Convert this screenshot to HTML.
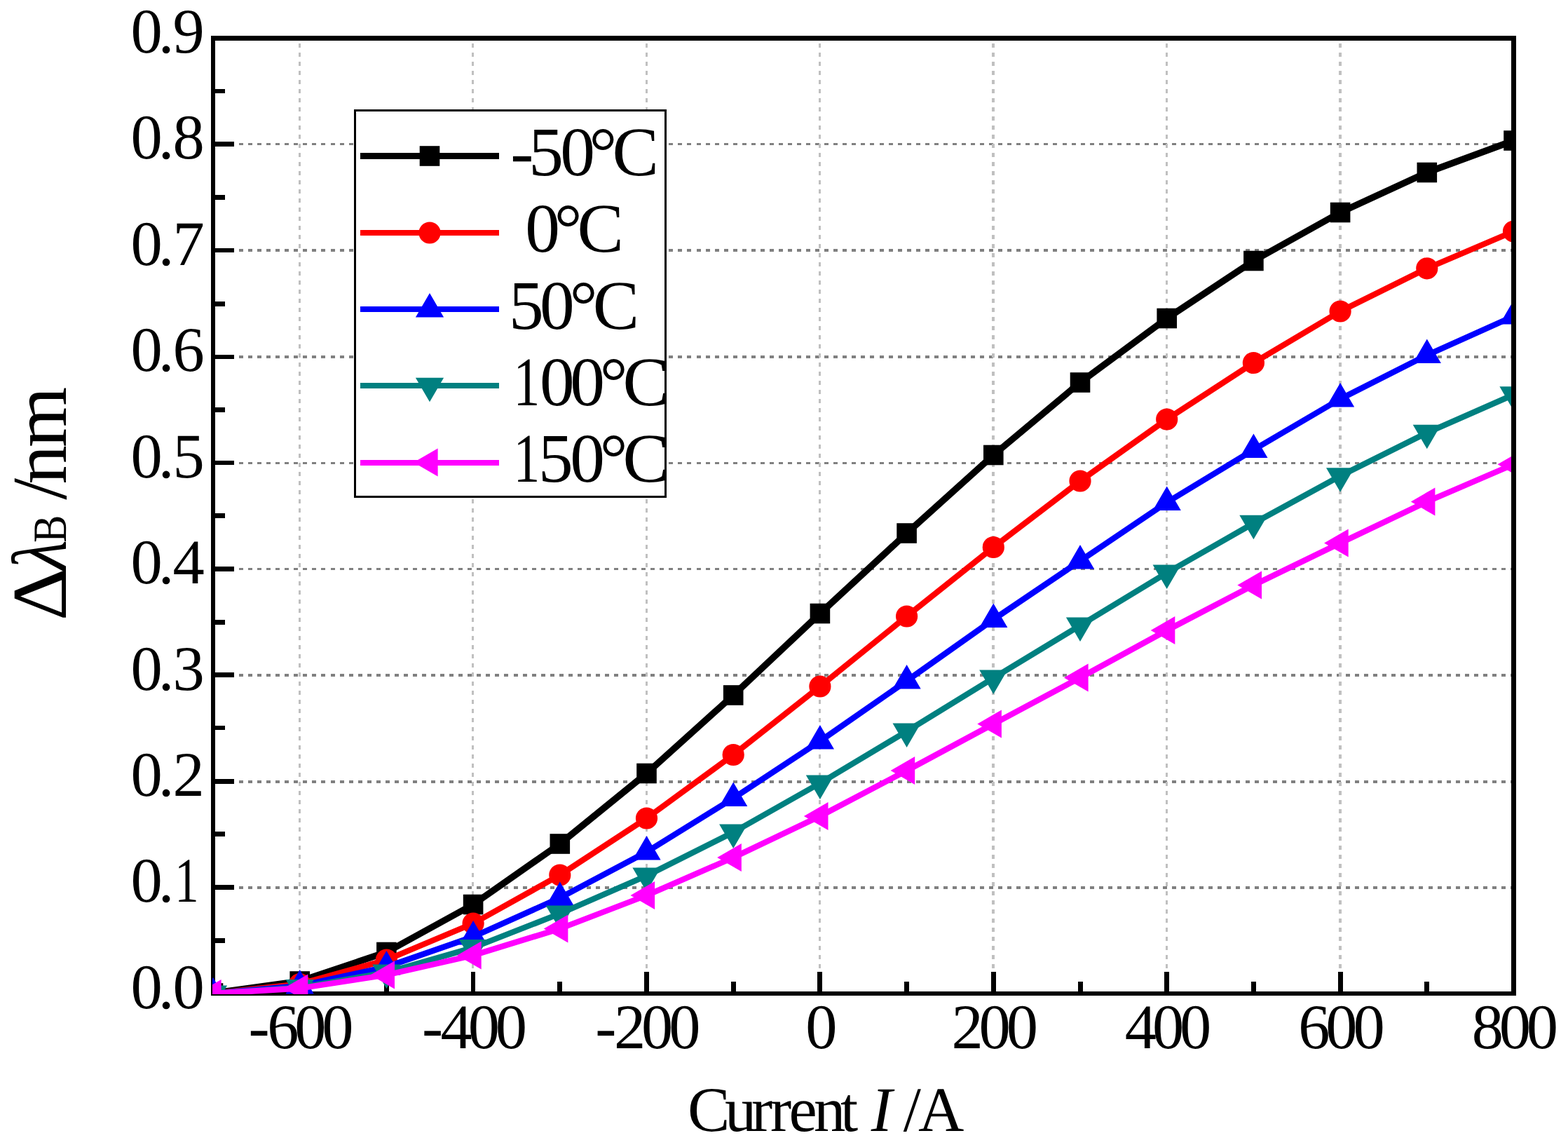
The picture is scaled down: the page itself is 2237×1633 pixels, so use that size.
<!DOCTYPE html>
<html lang="en">
<head>
<meta charset="utf-8">
<title>Wavelength shift versus current</title>
<style>
html,body{margin:0;padding:0;background:#fff;}
body{width:2237px;height:1633px;overflow:hidden;}
svg{display:block;}
text{font-family:"Liberation Serif","Times New Roman",serif;fill:#000;white-space:pre;text-rendering:geometricPrecision;}
.tk text{font-size:90.5px;}
.xt{font-size:90.5px;}
.yt text{font-size:111px;}
.it{font-style:italic;}
.yt .sub{font-size:68px;}
.lg{font-size:99.4px;}
</style>
</head>
<body>
<svg width="2237" height="1633" viewBox="0 0 2237 1633">
<defs><clipPath id="plotclip"><rect x="303" y="52" width="1860" height="1366"/></clipPath><clipPath id="legclip"><rect x="508" y="159" width="440" height="548"/></clipPath></defs>
<rect x="0" y="0" width="2237" height="1633" fill="#ffffff"/>
<g fill="none" shape-rendering="crispEdges"><line x1="341" y1="1266" x2="2156" y2="1266" stroke="#808080" stroke-width="4" stroke-dasharray="6 7.05"/><line x1="341" y1="1115" x2="2156" y2="1115" stroke="#808080" stroke-width="4" stroke-dasharray="6 7.05"/><line x1="341" y1="963" x2="2156" y2="963" stroke="#808080" stroke-width="4" stroke-dasharray="6 7.05"/><line x1="341" y1="811.5" x2="2156" y2="811.5" stroke="#808080" stroke-width="3" stroke-dasharray="6 7.05"/><line x1="341" y1="660.5" x2="2156" y2="660.5" stroke="#808080" stroke-width="3" stroke-dasharray="6 7.05"/><line x1="341" y1="509" x2="2156" y2="509" stroke="#808080" stroke-width="4" stroke-dasharray="6 7.05"/><line x1="341" y1="357" x2="2156" y2="357" stroke="#808080" stroke-width="4" stroke-dasharray="6 7.05"/><line x1="341" y1="205.5" x2="2156" y2="205.5" stroke="#808080" stroke-width="3" stroke-dasharray="6 7.05"/><line x1="427.5" y1="62" x2="427.5" y2="1386" stroke="#c0c0c0" stroke-width="3" stroke-dasharray="6 7"/><line x1="674.5" y1="62" x2="674.5" y2="1386" stroke="#c0c0c0" stroke-width="3" stroke-dasharray="6 7"/><line x1="922.5" y1="62" x2="922.5" y2="1386" stroke="#c0c0c0" stroke-width="3" stroke-dasharray="6 7"/><line x1="1169.5" y1="62" x2="1169.5" y2="1386" stroke="#c0c0c0" stroke-width="3" stroke-dasharray="6 7"/><line x1="1417" y1="62" x2="1417" y2="1386" stroke="#c0c0c0" stroke-width="4" stroke-dasharray="6 7"/><line x1="1664.5" y1="62" x2="1664.5" y2="1386" stroke="#c0c0c0" stroke-width="3" stroke-dasharray="6 7"/><line x1="1912" y1="62" x2="1912" y2="1386" stroke="#c0c0c0" stroke-width="4" stroke-dasharray="6 7"/></g>
<g fill="#000" shape-rendering="crispEdges">
<rect x="301" y="51" width="6" height="1369"/>
<rect x="2156" y="51" width="7" height="1369"/>
<rect x="301" y="51" width="1862" height="7"/>
<rect x="301" y="1414" width="1862" height="6"/>
<rect x="304" y="1338" width="17" height="7"/>
<rect x="304" y="1262" width="30" height="7"/>
<rect x="304" y="1186" width="17" height="7"/>
<rect x="304" y="1111" width="30" height="7"/>
<rect x="304" y="1035" width="17" height="6"/>
<rect x="304" y="959" width="30" height="7"/>
<rect x="304" y="884" width="17" height="7"/>
<rect x="304" y="808" width="30" height="7"/>
<rect x="304" y="732" width="17" height="7"/>
<rect x="304" y="657" width="30" height="6"/>
<rect x="304" y="581" width="17" height="7"/>
<rect x="304" y="506" width="30" height="6"/>
<rect x="304" y="430" width="17" height="7"/>
<rect x="304" y="354" width="30" height="6"/>
<rect x="304" y="278" width="17" height="7"/>
<rect x="304" y="202" width="30" height="7"/>
<rect x="304" y="127" width="17" height="6"/>
<rect x="424" y="1386" width="7" height="30"/>
<rect x="548" y="1400" width="7" height="16"/>
<rect x="672" y="1386" width="6" height="30"/>
<rect x="795" y="1400" width="7" height="16"/>
<rect x="919" y="1386" width="7" height="30"/>
<rect x="1043" y="1400" width="7" height="16"/>
<rect x="1166" y="1386" width="7" height="30"/>
<rect x="1290" y="1400" width="7" height="16"/>
<rect x="1414" y="1386" width="7" height="30"/>
<rect x="1538" y="1400" width="7" height="16"/>
<rect x="1661" y="1386" width="7" height="30"/>
<rect x="1785" y="1400" width="7" height="16"/>
<rect x="1909" y="1386" width="7" height="30"/>
<rect x="2032" y="1400" width="7" height="16"/>
</g>
<g clip-path="url(#plotclip)">
<path d="M304,1416.5L427.7,1399.5L551.4,1358L675.1,1290L798.8,1203.5L922.5,1103L1046.2,991.5L1169.9,875L1293.6,760.5L1417.3,649L1541,545.5L1664.7,454L1788.4,372L1912.1,303L2035.8,246L2159.5,200.5" fill="none" stroke="#000000" stroke-width="9.4" stroke-linejoin="round"/>
<rect x="289.7" y="1402.2" width="28.6" height="28.6" fill="#000000"/><rect x="413.4" y="1385.2" width="28.6" height="28.6" fill="#000000"/><rect x="537.1" y="1343.7" width="28.6" height="28.6" fill="#000000"/><rect x="660.8" y="1275.7" width="28.6" height="28.6" fill="#000000"/><rect x="784.5" y="1189.2" width="28.6" height="28.6" fill="#000000"/><rect x="908.2" y="1088.7" width="28.6" height="28.6" fill="#000000"/><rect x="1031.9" y="977.2" width="28.6" height="28.6" fill="#000000"/><rect x="1155.6" y="860.7" width="28.6" height="28.6" fill="#000000"/><rect x="1279.3" y="746.2" width="28.6" height="28.6" fill="#000000"/><rect x="1403" y="634.7" width="28.6" height="28.6" fill="#000000"/><rect x="1526.7" y="531.2" width="28.6" height="28.6" fill="#000000"/><rect x="1650.4" y="439.7" width="28.6" height="28.6" fill="#000000"/><rect x="1774.1" y="357.7" width="28.6" height="28.6" fill="#000000"/><rect x="1897.8" y="288.7" width="28.6" height="28.6" fill="#000000"/><rect x="2021.5" y="231.7" width="28.6" height="28.6" fill="#000000"/><rect x="2145.2" y="186.2" width="28.6" height="28.6" fill="#000000"/>
<path d="M304,1417L427.7,1403.5L551.4,1369L675.1,1317L798.8,1248L922.5,1167L1046.2,1076.5L1169.9,979L1293.6,879L1417.3,780.5L1541,686L1664.7,598L1788.4,517.5L1912.1,444L2035.8,382.8L2159.5,330" fill="none" stroke="#ff0000" stroke-width="8.3" stroke-linejoin="round"/>
<circle cx="304" cy="1417" r="15.6" fill="#ff0000"/><circle cx="427.7" cy="1403.5" r="15.6" fill="#ff0000"/><circle cx="551.4" cy="1369" r="15.6" fill="#ff0000"/><circle cx="675.1" cy="1317" r="15.6" fill="#ff0000"/><circle cx="798.8" cy="1248" r="15.6" fill="#ff0000"/><circle cx="922.5" cy="1167" r="15.6" fill="#ff0000"/><circle cx="1046.2" cy="1076.5" r="15.6" fill="#ff0000"/><circle cx="1169.9" cy="979" r="15.6" fill="#ff0000"/><circle cx="1293.6" cy="879" r="15.6" fill="#ff0000"/><circle cx="1417.3" cy="780.5" r="15.6" fill="#ff0000"/><circle cx="1541" cy="686" r="15.6" fill="#ff0000"/><circle cx="1664.7" cy="598" r="15.6" fill="#ff0000"/><circle cx="1788.4" cy="517.5" r="15.6" fill="#ff0000"/><circle cx="1912.1" cy="444" r="15.6" fill="#ff0000"/><circle cx="2035.8" cy="382.8" r="15.6" fill="#ff0000"/><circle cx="2159.5" cy="330" r="15.6" fill="#ff0000"/>
<path d="M304,1417L427.7,1406L551.4,1379L675.1,1336L798.8,1280.5L922.5,1215L1046.2,1138.5L1169.9,1057L1293.6,971L1417.3,883.5L1541,800L1664.7,716.5L1788.4,641.5L1912.1,569L2035.8,506.5L2159.5,451" fill="none" stroke="#0000ff" stroke-width="8.3" stroke-linejoin="round"/>
<polygon points="304,1394 283.9,1428.6 324.1,1428.6" fill="#0000ff"/><polygon points="427.7,1383 407.6,1417.6 447.8,1417.6" fill="#0000ff"/><polygon points="551.4,1356 531.3,1390.6 571.5,1390.6" fill="#0000ff"/><polygon points="675.1,1313 655,1347.6 695.2,1347.6" fill="#0000ff"/><polygon points="798.8,1257.5 778.7,1292.1 818.9,1292.1" fill="#0000ff"/><polygon points="922.5,1192 902.4,1226.6 942.6,1226.6" fill="#0000ff"/><polygon points="1046.2,1115.5 1026.1,1150.1 1066.3,1150.1" fill="#0000ff"/><polygon points="1169.9,1034 1149.8,1068.6 1190,1068.6" fill="#0000ff"/><polygon points="1293.6,948 1273.5,982.6 1313.7,982.6" fill="#0000ff"/><polygon points="1417.3,860.5 1397.2,895.1 1437.4,895.1" fill="#0000ff"/><polygon points="1541,777 1520.9,811.6 1561.1,811.6" fill="#0000ff"/><polygon points="1664.7,693.5 1644.6,728.1 1684.8,728.1" fill="#0000ff"/><polygon points="1788.4,618.5 1768.3,653.1 1808.5,653.1" fill="#0000ff"/><polygon points="1912.1,546 1892,580.6 1932.2,580.6" fill="#0000ff"/><polygon points="2035.8,483.5 2015.7,518.1 2055.9,518.1" fill="#0000ff"/><polygon points="2159.5,428 2139.4,462.6 2179.6,462.6" fill="#0000ff"/>
<path d="M304,1417L427.7,1408.5L551.4,1387L675.1,1351.5L798.8,1303L922.5,1249L1046.2,1187L1169.9,1117L1293.6,1043L1417.3,967L1541,892L1664.7,817L1788.4,746.3L1912.1,678.8L2035.8,617.3L2159.5,562.9" fill="none" stroke="#008080" stroke-width="8.3" stroke-linejoin="round"/>
<polygon points="304,1440 283.9,1405.4 324.1,1405.4" fill="#008080"/><polygon points="427.7,1431.5 407.6,1396.9 447.8,1396.9" fill="#008080"/><polygon points="551.4,1410 531.3,1375.4 571.5,1375.4" fill="#008080"/><polygon points="675.1,1374.5 655,1339.9 695.2,1339.9" fill="#008080"/><polygon points="798.8,1326 778.7,1291.4 818.9,1291.4" fill="#008080"/><polygon points="922.5,1272 902.4,1237.4 942.6,1237.4" fill="#008080"/><polygon points="1046.2,1210 1026.1,1175.4 1066.3,1175.4" fill="#008080"/><polygon points="1169.9,1140 1149.8,1105.4 1190,1105.4" fill="#008080"/><polygon points="1293.6,1066 1273.5,1031.4 1313.7,1031.4" fill="#008080"/><polygon points="1417.3,990 1397.2,955.4 1437.4,955.4" fill="#008080"/><polygon points="1541,915 1520.9,880.4 1561.1,880.4" fill="#008080"/><polygon points="1664.7,840 1644.6,805.4 1684.8,805.4" fill="#008080"/><polygon points="1788.4,769.3 1768.3,734.7 1808.5,734.7" fill="#008080"/><polygon points="1912.1,701.8 1892,667.2 1932.2,667.2" fill="#008080"/><polygon points="2035.8,640.3 2015.7,605.7 2055.9,605.7" fill="#008080"/><polygon points="2159.5,585.9 2139.4,551.3 2179.6,551.3" fill="#008080"/>
<path d="M304,1417L427.7,1409.5L551.4,1390.5L675.1,1362.5L798.8,1324.5L922.5,1277L1046.2,1223L1169.9,1164L1293.6,1099L1417.3,1032.5L1541,966.5L1664.7,899L1788.4,834.5L1912.1,774.5L2035.8,715.5L2159.5,662.3" fill="none" stroke="#ff00ff" stroke-width="8.3" stroke-linejoin="round"/>
<polygon points="281,1417 315.6,1396.9 315.6,1437.1" fill="#ff00ff"/><polygon points="404.7,1409.5 439.3,1389.4 439.3,1429.6" fill="#ff00ff"/><polygon points="528.4,1390.5 563,1370.4 563,1410.6" fill="#ff00ff"/><polygon points="652.1,1362.5 686.7,1342.4 686.7,1382.6" fill="#ff00ff"/><polygon points="775.8,1324.5 810.4,1304.4 810.4,1344.6" fill="#ff00ff"/><polygon points="899.5,1277 934.1,1256.9 934.1,1297.1" fill="#ff00ff"/><polygon points="1023.2,1223 1057.8,1202.9 1057.8,1243.1" fill="#ff00ff"/><polygon points="1146.9,1164 1181.5,1143.9 1181.5,1184.1" fill="#ff00ff"/><polygon points="1270.6,1099 1305.2,1078.9 1305.2,1119.1" fill="#ff00ff"/><polygon points="1394.3,1032.5 1428.9,1012.4 1428.9,1052.6" fill="#ff00ff"/><polygon points="1518,966.5 1552.6,946.4 1552.6,986.6" fill="#ff00ff"/><polygon points="1641.7,899 1676.3,878.9 1676.3,919.1" fill="#ff00ff"/><polygon points="1765.4,834.5 1800,814.4 1800,854.6" fill="#ff00ff"/><polygon points="1889.1,774.5 1923.7,754.4 1923.7,794.6" fill="#ff00ff"/><polygon points="2012.8,715.5 2047.4,695.4 2047.4,735.6" fill="#ff00ff"/><polygon points="2136.5,662.3 2171.1,642.2 2171.1,682.4" fill="#ff00ff"/>
</g>
<rect x="2156" y="51" width="7" height="1369" fill="#000" shape-rendering="crispEdges"/>
<g class="tk">
<text class="n" x="186.45 225.84 246.6" y="1437.9">0.0</text>
<text class="n" y="1286.47"><tspan x="186.45 225.84">0.</tspan><tspan x="249.25" textLength="34.4" lengthAdjust="spacingAndGlyphs">1</tspan></text>
<text class="n" x="186.45 225.84 246.6" y="1135.03">0.2</text>
<text class="n" x="186.45 225.84 246.6" y="983.6">0.3</text>
<text class="n" x="186.45 225.84 246.6" y="832.17">0.4</text>
<text class="n" x="186.45 225.84 246.6" y="680.73">0.5</text>
<text class="n" x="186.45 225.84 246.6" y="529.3">0.6</text>
<text class="n" x="186.45 225.84 246.6" y="377.87">0.7</text>
<text class="n" x="186.45 225.84 246.6" y="226.43">0.8</text>
<text class="n" x="186.45 225.84 246.6" y="75">0.9</text>
<text class="n" x="354.55 381.15 420.25 459.35" y="1494.9">-600</text>
<text class="n" x="601.95 628.55 667.65 706.75" y="1494.9">-400</text>
<text class="n" x="849.35 875.95 915.05 954.15" y="1494.9">-200</text>
<text class="n" x="1149.15" y="1494.9">0</text>
<text class="n" x="1357.45 1396.55 1435.65" y="1494.9">200</text>
<text class="n" x="1604.85 1643.95 1683.05" y="1494.9">400</text>
<text class="n" x="1852.25 1891.35 1930.45" y="1494.9">600</text>
<text class="n" x="2099.65 2138.75 2177.85" y="1494.9">800</text>
</g>
<text class="xt" y="1612.9"><tspan x="981.1 1034 1072 1099.1 1125.4 1160.9 1199.1 1222">Current </tspan><tspan class="it" x="1242.8">I</tspan><tspan x="1268 1288.8 1309.9"> /A</tspan></text>
<g class="yt" transform="translate(94,885) rotate(-90)"><text y="0"><tspan x="-0.3" textLength="75.5" lengthAdjust="spacingAndGlyphs">Δ</tspan><tspan class="it" x="71.4" textLength="43.3" lengthAdjust="spacingAndGlyphs">λ</tspan><tspan class="sub" x="110.9" textLength="39.5" lengthAdjust="spacingAndGlyphs">B</tspan><tspan x="150 172.2 194.6 247.1"> /nm</tspan></text></g>
<rect x="506.5" y="157.5" width="443" height="551" fill="#fff" stroke="#000" stroke-width="3" shape-rendering="crispEdges"/>
<g clip-path="url(#legclip)">
<rect x="514" y="218" width="198" height="9" fill="#000000" shape-rendering="crispEdges"/>
<rect x="598.7" y="208.2" width="28.6" height="28.6" fill="#000000"/>
<text class="lg" x="728.35 754.25 799.15 840.6 873.46" y="250">-50°C</text>
<rect x="514" y="328" width="198" height="8" fill="#ff0000" shape-rendering="crispEdges"/>
<circle cx="613" cy="332" r="15.6" fill="#ff0000"/>
<text class="lg" x="749.2 790.8 823.4" y="358.9">0°C</text>
<rect x="514" y="437" width="198" height="8" fill="#0000ff" shape-rendering="crispEdges"/>
<polygon points="613,418 592.9,452.6 633.1,452.6" fill="#0000ff"/>
<text class="lg" x="726.1 770.1 812.7 845.7" y="468.95">50°C</text>
<rect x="514" y="546.3" width="198" height="8" fill="#008080" shape-rendering="crispEdges"/>
<polygon points="613,573.3 592.9,538.7 633.1,538.7" fill="#008080"/>
<text class="lg" y="577.9"><tspan x="732.6" textLength="37.8" lengthAdjust="spacingAndGlyphs">1</tspan><tspan x="770.1 813.2 855.8 888.4">00°C</tspan></text>
<rect x="514" y="655.5" width="198" height="8" fill="#ff00ff" shape-rendering="crispEdges"/>
<polygon points="590,659.5 624.6,639.4 624.6,679.6" fill="#ff00ff"/>
<text class="lg" y="686.8"><tspan x="732.6" textLength="37.8" lengthAdjust="spacingAndGlyphs">1</tspan><tspan x="767.95 813.2 855.8 888.4">50°C</tspan></text>
</g>
</svg>
</body>
</html>
